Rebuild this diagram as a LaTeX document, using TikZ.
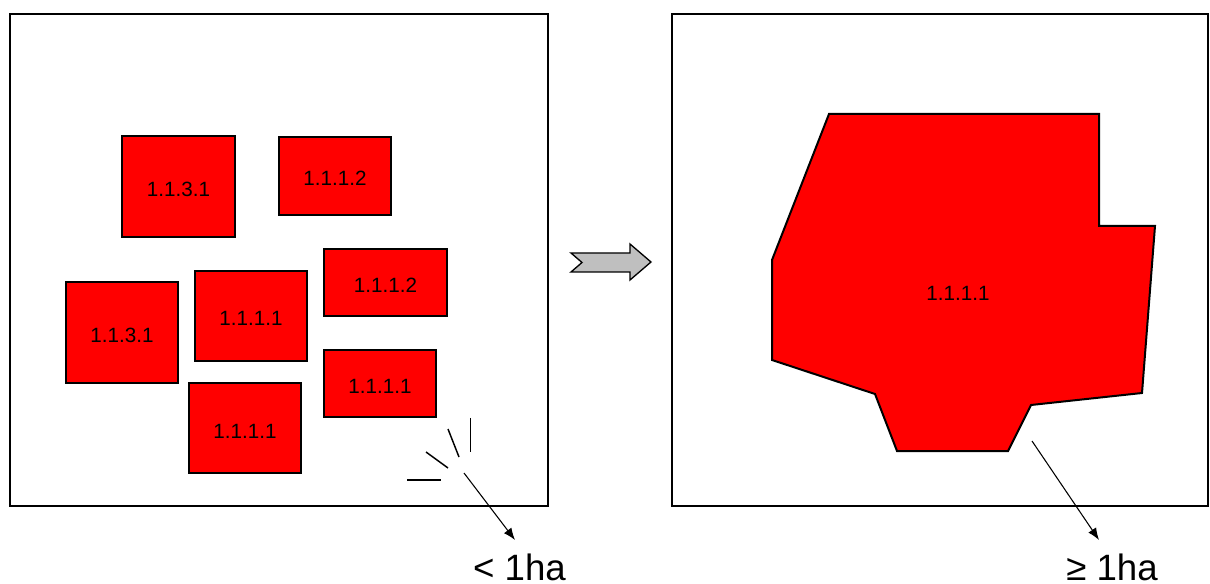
\documentclass[tikz,border=0pt]{standalone}
\usepackage{fontspec}
\setmainfont{Liberation Sans}
\usetikzlibrary{arrows.meta}
\begin{document}
\begin{tikzpicture}[x=0.75pt,y=-0.75pt,
  frame/.style={draw=black,line width=1.8pt},
  redbox/.style={draw=black,line width=1.5pt,fill=red,inner sep=0pt,font=\fontsize{15.5}{18}\selectfont,text depth=0pt,text height=15pt},
  spark/.style={draw=black,line width=1.1pt},
  pointer/.style={draw=black,line width=0.8pt,-{Latex[length=9pt,width=7pt]}},
  big/.style={font=\fontsize{27.5}{32}\selectfont,anchor=base,inner sep=0pt}]
\useasboundingbox (0,0) rectangle (1210,584);
% frames
\draw[frame] (10,14) rectangle (548,506);
\draw[frame] (672,14) rectangle (1208,506);
% small parcels
\node[redbox,minimum width=84.75pt,minimum height=75.75pt] (r1) at (178.5,186.5) {1.1.3.1};
\node[redbox,minimum width=84pt,minimum height=58.5pt] (r2) at (335,176) {1.1.1.2};
\node[redbox,minimum width=84pt,minimum height=75.75pt] (r3) at (122,332.5) {1.1.3.1};
\node[redbox,minimum width=84pt,minimum height=67.5pt] (r4) at (251,316) {1.1.1.1};
\node[redbox,minimum width=92.25pt,minimum height=50.25pt] (r5) at (385.5,282.5) {1.1.1.2};
\node[redbox,minimum width=84pt,minimum height=50.25pt] (r6) at (380,383.5) {1.1.1.1};
\node[redbox,minimum width=84pt,minimum height=67.5pt] (r7) at (245,428) {1.1.1.1};
% sparkle lines
\draw[spark] (470.7,418) -- (470.7,452);
\draw[spark] (448,429) -- (459,457);
\draw[spark] (426,452) -- (448,468);
\draw[spark] (407,480) -- (441,480);
% block arrow
\draw[draw=black,line width=1pt,fill=black!25]
  (571,253) -- (630,253) -- (630,244) -- (651,262) -- (630,280) -- (630,272) -- (571,272) -- (582,262.5) -- cycle;
% merged parcel
\draw[draw=black,line width=1.5pt,fill=red]
  (829,114) -- (1099,114) -- (1099,226) -- (1155,226) -- (1142,393) -- (1031,405)
  -- (1008,451) -- (897,451) -- (875,394) -- (772,360) -- (772,260) -- cycle;
\node[font=\fontsize{15.5}{18}\selectfont,inner sep=0pt] (big1) at (958,293) {1.1.1.1};
% labels
\node[big] (lt) at (519.5,580) {< 1ha};
\node[big] (gt) at (1112,580) {≥ 1ha};
\coordinate (s1) at (464,473);
\coordinate (e1) at (515,540);
\coordinate (s2) at (1032,441);
\coordinate (e2) at (1099,540);
\draw[pointer] (s1) -- (e1);
\draw[pointer] (s2) -- (e2);
\end{tikzpicture}
\end{document}
